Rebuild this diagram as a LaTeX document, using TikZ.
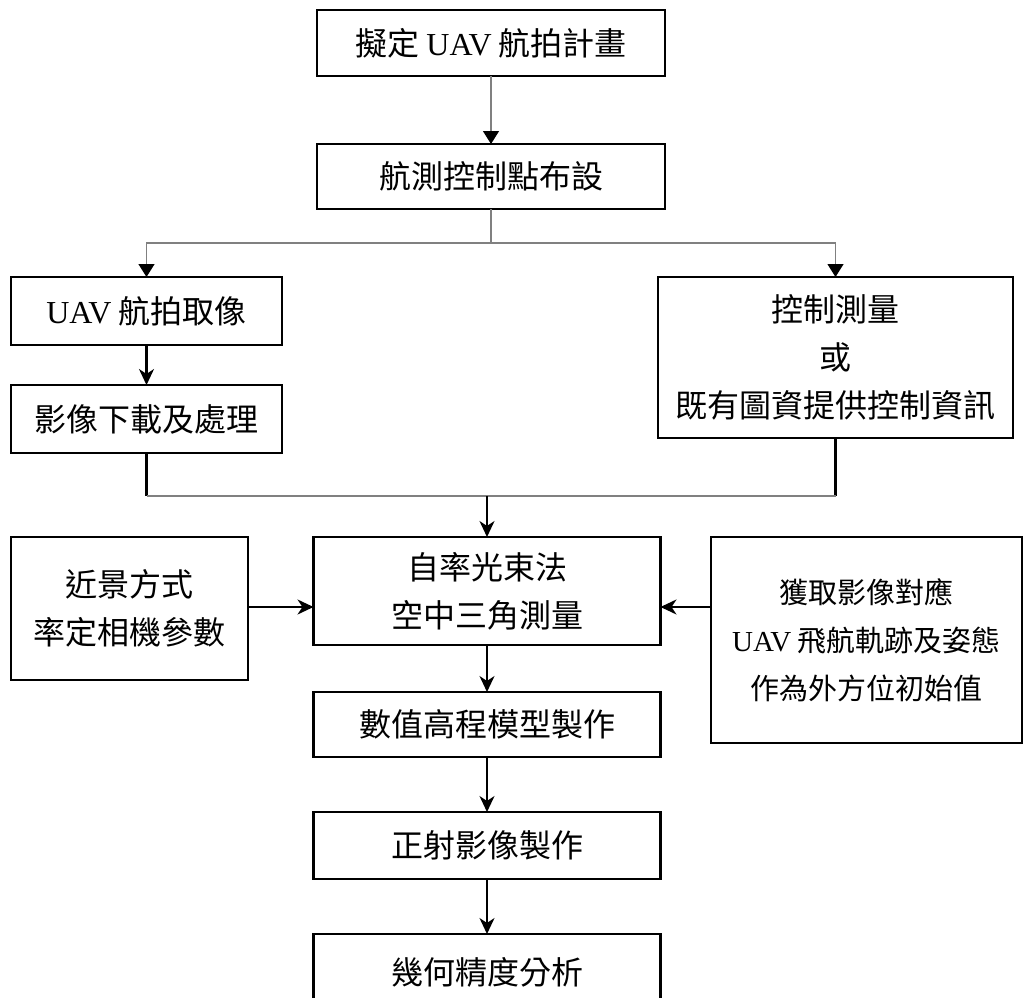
\documentclass[tikz,border=0pt]{standalone}
\usepackage{fontspec}
\setmainfont{Liberation Serif}
\newfontfamily\cjk{Noto Sans CJK TC}
\newcommand\latn[1]{{\rmfamily #1}}
\usetikzlibrary{arrows.meta,calc}
\begin{document}
\begin{tikzpicture}[x=1pt,y=-1pt,
  box/.style={draw=black,line width=2.2pt,inner sep=0pt,outer sep=0pt,align=center,
    font=\cjk\fontsize{32}{48}\selectfont},
  arr/.style={line width=2.2pt,-{Stealth[length=16pt,width=15pt,inset=5pt]}},
  garr/.style={draw=gray,line width=1.3pt,-{Triangle[length=13pt,width=16pt,color=black]}},
  gline/.style={draw=gray,line width=1.3pt},
  bline/.style={draw=black,line width=2.2pt}]
\useasboundingbox (0,0) rectangle (1029,998);
\clip (0,0) rectangle (1029,998);
\node[box,minimum width=348pt,minimum height=66pt] (b1) at (491,43) {擬定 \latn{UAV} 航拍計畫};
\node[box,minimum width=348pt,minimum height=65pt] (b2) at (491,176.5) {航測控制點布設};
\node[box,minimum width=271pt,minimum height=68pt] (l1) at (146.5,311) {\latn{UAV} 航拍取像};
\node[box,minimum width=271pt,minimum height=68pt] (l2) at (146.5,419) {影像下載及處理};
\node[box,minimum width=355pt,minimum height=161pt] (r1) at (835.5,357.5) {控制測量\\或\\既有圖資提供控制資訊};
\node[box,minimum width=237pt,minimum height=143pt] (lc) at (129.5,608.5) {近景方式\\率定相機參數};
\node[box,minimum width=347pt,minimum height=108pt] (c1) at (487,591) {自率光束法\\空中三角測量};
\node[box,minimum width=311pt,minimum height=206pt,font=\cjk\fontsize{29}{48}\selectfont] (rc) at (866.5,640) {獲取影像對應\\\latn{UAV} 飛航軌跡及姿態\\作為外方位初始值};
\node[box,minimum width=347pt,minimum height=65pt] (c2) at (487,724.5) {數值高程模型製作};
\node[box,minimum width=347pt,minimum height=67pt] (c3) at (487,845.5) {正射影像製作};
\node[box,minimum width=347pt,minimum height=76pt] (c4) at (487,972) {幾何精度分析};
% top connectors
\draw[garr] (b1.south) -- (b2.north);
\coordinate (j1) at (491,243);
\draw[gline] (b2.south) -- (j1);
\draw[garr] (j1) -| (l1.north);
\draw[garr] (j1) -| (r1.north);
\draw[arr] (l1.south) -- (l2.north);
% merge
\coordinate (m) at (487,496);
\draw[bline] (l2.south) -- (l2.south |- m);
\draw[bline] (r1.south) -- (r1.south |- m);
\draw[gline] (l2.south |- m) -- (r1.south |- m);
\draw[arr] (m) -- (c1.north);
% side inputs
\draw[arr] (lc.east |- 0,607) -- (c1.west |- 0,607);
\draw[arr] (rc.west |- 0,607) -- (c1.east |- 0,607);
% chain
\draw[arr] (c1.south) -- (c2.north);
\draw[arr] (c2.south) -- (c3.north);
\draw[arr] (c3.south) -- (c4.north);
\end{tikzpicture}
\end{document}
